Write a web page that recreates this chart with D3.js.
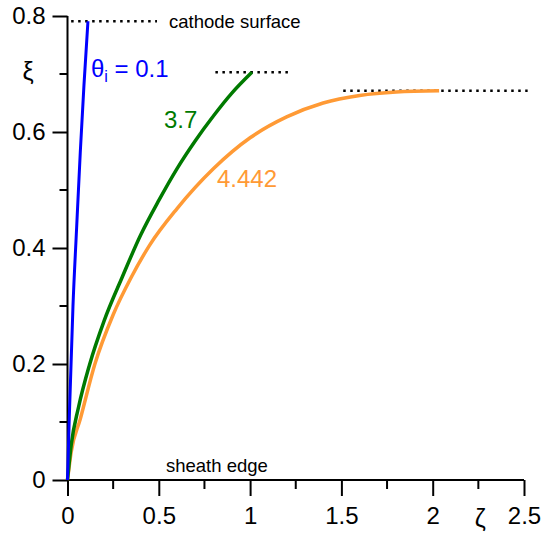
<!DOCTYPE html>
<html>
<head>
<meta charset="utf-8">
<script src="https://cdn.jsdelivr.net/npm/d3@7"></script>
<style>
  body { margin: 0; background: #fff; }
  svg text { font-family: "Liberation Sans", Arial, sans-serif; }
</style>
</head>
<body>
<div id="chart"></div>
<script>
// ion trajectories, zeta (x) vs xi (y)
const blueZeta = [0, 0.010, 0.030, 0.050, 0.070, 0.090, 0.112];
const blueXi   = [0, 0.110, 0.300, 0.435, 0.565, 0.680, 0.791];

const greenZeta = [0, 0.020, 0.060, 0.120, 0.200, 0.300, 0.400, 0.500, 0.600, 0.700, 0.800, 0.900, 1.010];
const greenXi   = [0, 0.060, 0.125, 0.198, 0.274, 0.350, 0.422, 0.482, 0.537, 0.585, 0.628, 0.667, 0.703];

const orangeZeta = [0, 0.020, 0.070, 0.150, 0.250, 0.350, 0.450, 0.600, 0.800, 1.000, 1.200, 1.400, 1.600, 1.800, 2.035];
const orangeXi   = [0, 0.048, 0.105, 0.200, 0.285, 0.350, 0.405, 0.468, 0.537, 0.590, 0.626, 0.650, 0.663, 0.669, 0.671];

// dotted "cathode surface" levels: [zeta start, zeta end, xi]
const surfaceLevels = [[0.02, 0.49, 0.791], [0.81, 1.22, 0.703], [1.51, 2.52, 0.671]];

const xTicks = [0, 0.5, 1, 1.5, 2, 2.5];
const xMinor = [0.25, 0.75, 1.25, 1.75, 2.25];
const yTicks = [0, 0.2, 0.4, 0.6, 0.8];
const yMinor = [0.1, 0.3, 0.5, 0.7];

const width = 547, height = 535;
const x0 = 67.5, x1 = 524, yTop = 16, yBot = 480;

const svg = d3.select("#chart").append("svg")
    .attr("width", width)
    .attr("height", height);

const x = d3.scaleLinear().domain([0, 2.5]).range([x0, x1]);
const y = d3.scaleLinear().domain([0, 0.8]).range([yBot, yTop]);

// axes
const xAxis = d3.axisBottom(x).tickValues(xTicks).tickSize(16).tickPadding(8)
    .tickFormat(d => d3.format("")(d));
const yAxis = d3.axisLeft(y).tickValues(yTicks).tickSize(15).tickPadding(7)
    .tickFormat(d => d3.format("")(d));

const gx = svg.append("g").attr("transform", `translate(0,${yBot})`).call(xAxis);
const gy = svg.append("g").attr("transform", `translate(${x0},0)`).call(yAxis);

[gx, gy].forEach(g => {
    g.select(".domain").remove();
    g.selectAll(".tick line").attr("stroke", "#000").attr("stroke-width", 2);
    g.selectAll(".tick text").attr("font-size", 24).attr("fill", "#000")
        .attr("font-family", "Liberation Sans, Arial, sans-serif");
});
gx.selectAll(".tick text").attr("dy", "0.85em");

// minor ticks
svg.append("g").selectAll("line").data(xMinor).join("line")
    .attr("x1", d => x(d)).attr("x2", d => x(d))
    .attr("y1", yBot).attr("y2", yBot + 9)
    .attr("stroke", "#000").attr("stroke-width", 2);
svg.append("g").selectAll("line").data(yMinor).join("line")
    .attr("x1", x0 - 8).attr("x2", x0)
    .attr("y1", d => y(d)).attr("y2", d => y(d))
    .attr("stroke", "#000").attr("stroke-width", 2);

// axis lines
svg.append("line").attr("x1", x0).attr("x2", x1).attr("y1", yBot).attr("y2", yBot)
    .attr("stroke", "#000").attr("stroke-width", 2);
svg.append("line").attr("x1", x0).attr("x2", x0).attr("y1", yTop).attr("y2", yBot)
    .attr("stroke", "#000").attr("stroke-width", 2);

// axis symbols
svg.append("text").attr("x", 28).attr("y", 80).attr("text-anchor", "middle")
    .attr("font-size", 25).text("ξ");
svg.append("text").attr("x", x(2.26)).attr("y", 527).attr("text-anchor", "middle")
    .attr("font-size", 25).text("ζ");

// dotted levels
svg.append("g").selectAll("line").data(surfaceLevels).join("line")
    .attr("x1", d => x(d[0])).attr("x2", d => x(d[1]))
    .attr("y1", d => y(d[2])).attr("y2", d => y(d[2]))
    .attr("stroke", "#000").attr("stroke-width", 2.5)
    .attr("stroke-dasharray", "2.5,4.5");

// curves
const line = d3.line().x(d => x(d[0])).y(d => y(d[1])).curve(d3.curveMonotoneX);
const series = [
    {zeta: orangeZeta, xi: orangeXi, color: "#ff9a35", w: 3.5},
    {zeta: greenZeta, xi: greenXi, color: "#007a00", w: 3.5},
    {zeta: blueZeta, xi: blueXi, color: "#0000ff", w: 3}
];
series.forEach(s => {
    svg.append("path")
        .datum(s.zeta.map((z, i) => [z, s.xi[i]]))
        .attr("fill", "none")
        .attr("stroke", s.color)
        .attr("stroke-width", s.w)
        .attr("d", line);
});

// labels
const th = svg.append("text").attr("x", 91).attr("y", 77).attr("font-size", 24).attr("fill", "#0000ff");
th.append("tspan").text("θ");
th.append("tspan").attr("font-size", 16).attr("dy", 5).text("i");
th.append("tspan").attr("dy", -5).text(" = 0.1");

svg.append("text").attr("x", 164).attr("y", 128).attr("font-size", 24).attr("fill", "#007a00").text("3.7");
svg.append("text").attr("x", 217).attr("y", 187).attr("font-size", 24).attr("fill", "#ff9a35").text("4.442");

svg.append("text").attr("x", 169).attr("y", 28).attr("font-size", 18.5).attr("fill", "#000").text("cathode surface");
svg.append("text").attr("x", 166).attr("y", 472).attr("font-size", 18.5).attr("fill", "#000").text("sheath edge");
</script>
</body>
</html>
